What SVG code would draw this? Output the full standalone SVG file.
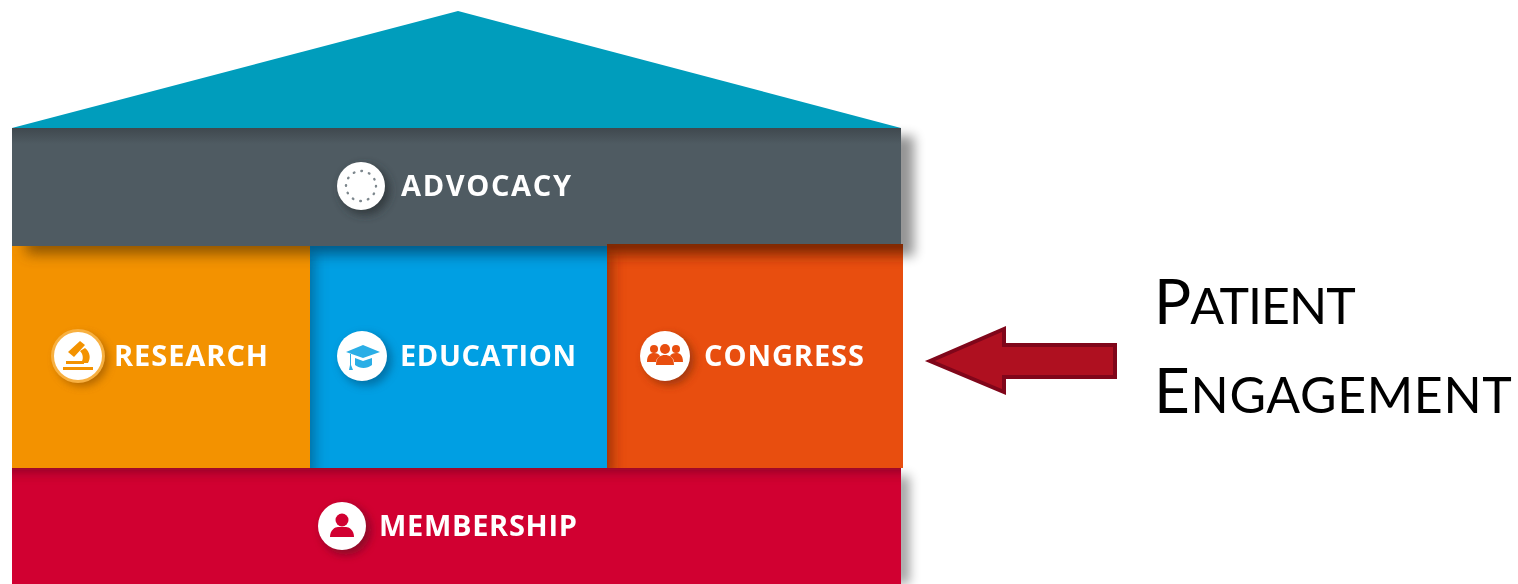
<svg xmlns="http://www.w3.org/2000/svg" width="1518" height="584" viewBox="0 0 1518 584">
<style>
.lbl{font-family:"Open Sans","Liberation Sans",sans-serif;font-weight:700;font-size:29px;fill:#fff}
.big{font-family:Lato,"Open Sans",sans-serif;font-size:62px;fill:#000}
.sm{font-size:50px}
</style>
<defs>
<filter id="b8" x="-80%" y="-30%" width="260%" height="160%"><feGaussianBlur stdDeviation="6"/></filter>
<filter id="b3" x="-10%" y="-150%" width="120%" height="400%"><feGaussianBlur stdDeviation="7"/></filter>
<filter id="bs" x="-300%" y="-10%" width="700%" height="120%"><feGaussianBlur stdDeviation="8"/></filter>
<filter id="c3" x="-40%" y="-40%" width="180%" height="180%"><feGaussianBlur stdDeviation="4"/></filter>
<filter id="soft" x="-5%" y="-5%" width="110%" height="110%"><feGaussianBlur stdDeviation="0.6"/></filter>
<filter id="t" x="-5%" y="-20%" width="110%" height="140%"><feGaussianBlur stdDeviation="0.6"/></filter>
<linearGradient id="gg" x1="0" y1="0" x2="0" y2="1"><stop offset="0" stop-color="#3f484e"/><stop offset="1" stop-color="#4f5b62"/></linearGradient>
<clipPath id="cr"><rect x="12" y="246" width="298" height="222"/></clipPath>
<clipPath id="ce"><rect x="310" y="246" width="297" height="222"/></clipPath>
<clipPath id="cc"><rect x="607" y="244" width="296" height="224"/></clipPath>
<clipPath id="cm"><rect x="12" y="468" width="889" height="116"/></clipPath>
</defs>
<rect width="1518" height="584" fill="#fff"/>
<g id="shadows">
<rect x="890" y="136" width="24" height="120" fill="#000" opacity=".42" filter="url(#b8)"/>
<rect x="895" y="476" width="14" height="108" fill="#000" opacity=".4" filter="url(#b8)"/>
</g>
<g id="roof"><polygon points="12,128 458,11 901,128" fill="#029dbc" filter="url(#soft)"/></g>
<g id="advocacy">
<rect x="12" y="128" width="889" height="118" fill="#4f5b62"/>
<rect x="12" y="128" width="889" height="16" fill="url(#gg)"/>
<circle cx="365" cy="190" r="25" fill="#2a3236" opacity=".75" filter="url(#c3)"/>
<circle cx="361" cy="186" r="24" fill="#fff"/>
<circle cx="361" cy="186" r="15" fill="none" stroke="#7d878d" stroke-width="2.4" stroke-linecap="round" stroke-dasharray="0.6 7.25"/>
<text class="lbl" filter="url(#t)" x="401" y="196" textLength="170">ADVOCACY</text>
</g>
<g id="research">
<rect x="12" y="246" width="298" height="222" fill="#f39200"/>
<g clip-path="url(#cr)"><rect x="26" y="234" width="300" height="20" fill="#7a4800" opacity=".85" filter="url(#b3)"/></g>
<circle cx="82" cy="360" r="26" fill="#a05c00" opacity=".8" filter="url(#c3)"/>
<circle cx="78" cy="356" r="27" fill="#f8b040"/>
<circle cx="78" cy="356" r="24" fill="#fff"/>
<path d="M63 367h30v3H63zM66 361h18v3H66zM68 352l12-11 5 4-11 12zM80 351l5-3c5 4 6 10 3 15h-7c3-4 2-9-1-12z" fill="#f39200"/>
<text class="lbl" filter="url(#t)" x="114" y="366" textLength="154">RESEARCH</text>
</g>
<g id="education">
<rect x="310" y="246" width="297" height="222" fill="#009fe3"/>
<g clip-path="url(#ce)"><rect x="298" y="250" width="14" height="230" fill="#064a70" opacity=".8" filter="url(#bs)"/>
<rect x="296" y="234" width="325" height="20" fill="#04507a" opacity=".9" filter="url(#b3)"/></g>
<circle cx="366" cy="360" r="26" fill="#04689a" opacity=".8" filter="url(#c3)"/>
<circle cx="362" cy="356" r="25" fill="#fff"/>
<path d="M346 352l17-7 17 7-17 6zM355 358l8 3 9-3v7c-5 4-12 4-17 0zM350 354l1 0v11l2 5h-4l1-5z" fill="#2aaee6"/>
<text class="lbl" filter="url(#t)" x="400" y="366" textLength="176">EDUCATION</text>
</g>
<g id="congress">
<rect x="607" y="244" width="296" height="224" fill="#e84e0f"/>
<g clip-path="url(#cc)"><rect x="595" y="250" width="14" height="230" fill="#6a2406" opacity=".9" filter="url(#bs)"/>
<rect x="593" y="232" width="324" height="22" fill="#6f2406" opacity=".95" filter="url(#b3)"/></g>
<circle cx="669" cy="360" r="25" fill="#8f300a" opacity=".8" filter="url(#c3)"/>
<circle cx="665" cy="356" r="25" fill="#fff"/>
<g fill="#e84e0f"><circle cx="654" cy="349" r="4"/><circle cx="676" cy="349" r="4"/><circle cx="665" cy="349" r="5"/><path d="M647 362c0-8 4-9 7-9s5 1 6 3c-3 2-4 4-4 6zM683 362c0-8-4-9-7-9s-5 1-6 3c3 2 4 4 4 6zM656 365c0-8 5-10 9-10s9 2 9 10z"/></g>
<text class="lbl" filter="url(#t)" x="704" y="366" textLength="160">CONGRESS</text>
</g>
<g id="membership">
<rect x="12" y="468" width="889" height="116" fill="#d10031"/>
<g clip-path="url(#cm)"><rect x="-10" y="454" width="930" height="16" fill="#6a0820" opacity=".8" filter="url(#b3)"/></g>
<circle cx="346" cy="530" r="25" fill="#7c0a26" opacity=".8" filter="url(#c3)"/>
<circle cx="342" cy="526" r="24" fill="#fff"/>
<g fill="#d10031"><circle cx="342" cy="520" r="6.5"/><path d="M330 537c0-7 5-10 8-10h8c3 0 8 3 8 10z"/></g>
<text class="lbl" filter="url(#t)" x="379" y="536" textLength="198">MEMBERSHIP</text>
</g>
<g id="connectors">
<polygon points="930,361 1004,329 1004,345 1115,345 1115,377 1004,377 1004,392" fill="#af1020" stroke="#80061a" stroke-width="4"/>
</g>
<g id="patient-engagement">
<text class="big" x="1154" y="324" letter-spacing="-1">P<tspan class="sm">ATIENT</tspan></text>
<text class="big" x="1154" y="413" letter-spacing=".7">E<tspan class="sm">NGAGEMENT</tspan></text>
</g>
</svg>
